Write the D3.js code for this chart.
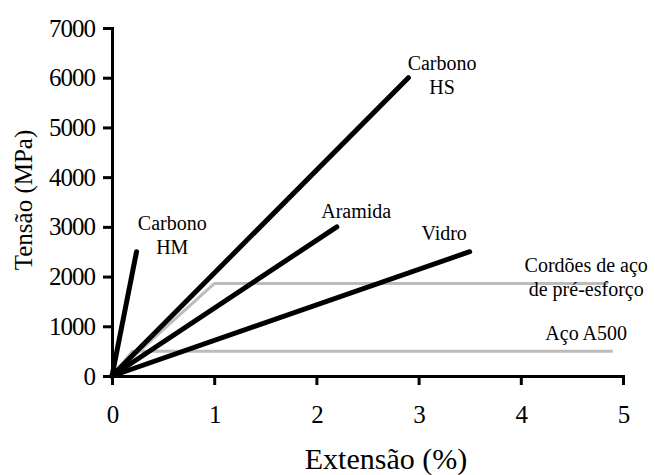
<!DOCTYPE html>
<html>
<head>
<meta charset="utf-8">
<script src="https://cdn.jsdelivr.net/npm/d3@7/dist/d3.min.js"></script>
<style>
  body { margin: 0; background: #fff; }
  .axis path, .axis line { stroke: #000; stroke-width: 3px; }
</style>
</head>
<body>
<svg id="chart"></svg>
<script>
// data (extensão %, tensão MPa)
const carbonoHM = [[0, 0], [0.24, 2500]];
const carbonoHS = [[0, 0], [2.9, 6000]];
const aramida = [[0, 0], [2.2, 3000]];
const vidro = [[0, 0], [3.5, 2500]];
const cordoes = [[0, 0], [1.0, 1860], [4.85, 1860]];
const acoA500 = [[0, 0], [0.2, 500], [4.9, 500]];

const xTicks = [0, 1, 2, 3, 4, 5];
const yTicks = [0, 1000, 2000, 3000, 4000, 5000, 6000, 7000];

// annotation anchors in data units
const labels = [
  { lines: ["Carbono", "HM"], x: 0.59, y: 2940 },
  { lines: ["Carbono", "HS"], x: 3.23, y: 6150 },
  { lines: ["Aramida"], x: 2.39, y: 3180 },
  { lines: ["Vidro"], x: 3.25, y: 2740 },
  { lines: ["Cordões de aço", "de pré-esforço"], x: 4.64, y: 2090 },
  { lines: ["Aço A500"], x: 4.64, y: 720 }
];

const FONT = "'Liberation Serif', 'Times New Roman', Times, serif";
const w = 655, h = 475;
const svg = d3.select("#chart").attr("width", w).attr("height", h);

const xScale = d3.scaleLinear().domain([0, 5]).range([112, 623]);
const yScale = d3.scaleLinear().domain([0, 7000]).range([376, 28]);

const xAxis = d3.axisBottom(xScale).tickValues(xTicks).tickFormat(d3.format("d"))
  .tickSize(9).tickPadding(20).tickSizeOuter(0);
const yAxis = d3.axisLeft(yScale).tickValues(yTicks).tickFormat(d3.format("d"))
  .tickSize(9).tickPadding(8).tickSizeOuter(0);

const line = d3.line().x(d => xScale(d[0])).y(d => yScale(d[1]));

// gray steel curves first, fibres on top
[cordoes, acoA500].forEach(s => {
  svg.append("path").attr("d", line(s))
    .attr("fill", "none").attr("stroke", "#bcbcbc").attr("stroke-width", 3)
    .attr("stroke-linejoin", "round");
});
[carbonoHM, carbonoHS, aramida, vidro].forEach(s => {
  svg.append("path").attr("d", line(s))
    .attr("fill", "none").attr("stroke", "#000").attr("stroke-width", 5)
    .attr("stroke-linecap", "round");
});

svg.append("g").attr("class", "x axis")
  .attr("transform", "translate(0," + yScale(0) + ")")
  .call(xAxis);
svg.append("g").attr("class", "y axis")
  .attr("transform", "translate(" + xScale(0) + ",0)")
  .call(yAxis);
svg.selectAll(".axis")
  .attr("font-family", FONT).attr("font-size", 25);
svg.selectAll(".axis text").attr("fill", "#000").style("letter-spacing", "-1px");
svg.selectAll(".axis path").attr("stroke-linecap", "square");

labels.forEach(l => {
  const t = svg.append("text")
    .attr("font-family", FONT).attr("font-size", 20)
    .attr("text-anchor", "middle")
    .attr("x", xScale(l.x)).attr("y", yScale(l.y));
  l.lines.forEach((s, i) => {
    t.append("tspan").attr("x", xScale(l.x)).attr("dy", i ? 24 : 0).text(s);
  });
});

svg.append("text")
  .attr("font-family", FONT).attr("font-size", 30)
  .attr("text-anchor", "middle")
  .attr("x", 386).attr("y", 469)
  .text("Extensão (%)");

svg.append("text")
  .attr("font-family", FONT).attr("font-size", 25)
  .attr("text-anchor", "middle")
  .attr("transform", "translate(32,200) rotate(-90)")
  .text("Tensão (MPa)");
</script>
</body>
</html>
